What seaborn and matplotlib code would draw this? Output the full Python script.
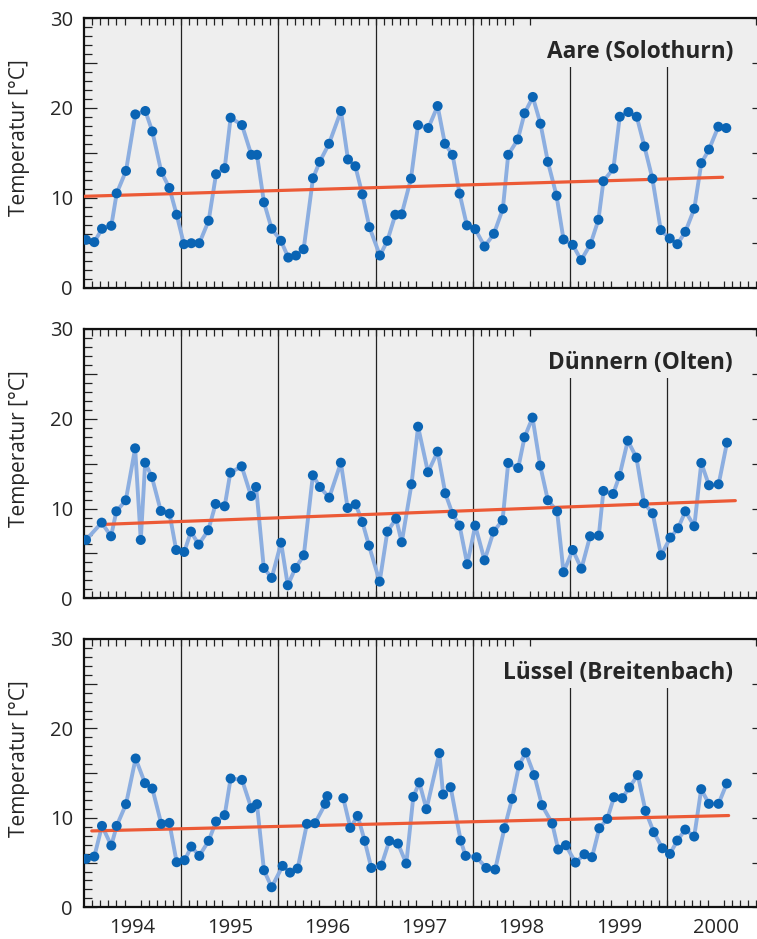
import numpy as np
import pandas as pd
import seaborn as sns
import matplotlib.pyplot as plt
from matplotlib.patches import Rectangle
from matplotlib.ticker import FixedLocator, FuncFormatter

# Monthly water temperatures (decimal year, degC)
aare_year = [
    1994.021, 1994.106, 1994.185, 1994.281, 1994.336, 1994.432, 1994.528, 1994.631, 1994.703, 1994.795, 1994.878, 1994.953,
    1995.028, 1995.104, 1995.186, 1995.282, 1995.358, 1995.447, 1995.508, 1995.625, 1995.721, 1995.779, 1995.851, 1995.930,
    1996.026, 1996.101, 1996.180, 1996.259, 1996.355, 1996.424, 1996.520, 1996.643, 1996.715, 1996.791, 1996.863, 1996.935,
    1997.044, 1997.120, 1997.202, 1997.267, 1997.363, 1997.435, 1997.541, 1997.637, 1997.712, 1997.791, 1997.863, 1997.938,
    1998.024, 1998.120, 1998.216, 1998.308, 1998.363, 1998.462, 1998.531, 1998.616, 1998.695, 1998.771, 1998.860, 1998.932,
    1999.027, 1999.113, 1999.209, 1999.291, 1999.342, 1999.445, 1999.510, 1999.599, 1999.685, 1999.764, 1999.846, 1999.932,
    2000.024, 2000.103, 2000.185, 2000.277, 2000.349, 2000.428, 2000.524, 2000.606]
aare_temp = [
    5.31, 5.05, 6.54, 6.87, 10.48, 12.98, 19.27, 19.65, 17.37, 12.87, 11.08, 8.10,
    4.82, 4.93, 4.93, 7.43, 12.61, 13.28, 18.90, 18.08, 14.77, 14.77, 9.48, 6.54,
    5.20, 3.33, 3.56, 4.26, 12.16, 13.99, 16.00, 19.65, 14.25, 13.50, 10.37, 6.72,
    3.56, 5.20, 8.10, 8.14, 12.12, 18.08, 17.75, 20.20, 16.00, 14.77, 10.45, 6.91,
    6.50, 4.56, 5.98, 8.77, 14.77, 16.48, 19.39, 21.21, 18.23, 13.99, 10.22, 5.34,
    4.75, 3.04, 4.82, 7.54, 11.83, 13.24, 19.01, 19.53, 19.01, 15.70, 12.12, 6.39,
    5.46, 4.82, 6.20, 8.77, 13.84, 15.36, 17.90, 17.75]

duennern_year = [
    1994.021, 1994.182, 1994.278, 1994.333, 1994.430, 1994.526, 1994.584, 1994.629, 1994.698, 1994.790, 1994.880, 1994.948,
    1995.031, 1995.100, 1995.179, 1995.278, 1995.354, 1995.447, 1995.505, 1995.622, 1995.718, 1995.770, 1995.849, 1995.931,
    1996.027, 1996.096, 1996.175, 1996.261, 1996.354, 1996.426, 1996.522, 1996.642, 1996.711, 1996.794, 1996.863, 1996.931,
    1997.041, 1997.120, 1997.210, 1997.268, 1997.368, 1997.436, 1997.538, 1997.637, 1997.716, 1997.791, 1997.863, 1997.942,
    1998.024, 1998.120, 1998.212, 1998.305, 1998.363, 1998.466, 1998.531, 1998.613, 1998.692, 1998.771, 1998.866, 1998.932,
    1999.027, 1999.116, 1999.205, 1999.295, 1999.342, 1999.442, 1999.507, 1999.593, 1999.682, 1999.760, 1999.849, 1999.935,
    2000.031, 2000.110, 2000.185, 2000.277, 2000.349, 2000.428, 2000.527, 2000.613]
duennern_temp = [
    6.50, 8.43, 6.91, 9.69, 10.92, 16.71, 6.50, 15.11, 13.52, 9.73, 9.43, 5.38,
    5.16, 7.43, 5.98, 7.58, 10.51, 10.25, 14.00, 14.70, 11.40, 12.40, 3.38, 2.27,
    6.20, 1.45, 3.38, 4.79, 13.70, 12.40, 11.21, 15.11, 10.06, 10.47, 8.50, 5.87,
    1.86, 7.43, 8.87, 6.24, 12.70, 19.12, 14.04, 16.34, 11.70, 9.39, 8.10, 3.79,
    8.10, 4.23, 7.43, 8.69, 15.08, 14.52, 17.94, 20.13, 14.78, 10.92, 9.69, 2.90,
    5.38, 3.30, 6.91, 6.98, 11.96, 11.62, 13.63, 17.56, 15.67, 10.58, 9.47, 4.79,
    6.76, 7.80, 9.69, 8.02, 15.08, 12.59, 12.70, 17.34]

luessel_year = [
    1994.021, 1994.106, 1994.185, 1994.281, 1994.336, 1994.432, 1994.531, 1994.627, 1994.703, 1994.795, 1994.878, 1994.953,
    1995.035, 1995.104, 1995.186, 1995.282, 1995.358, 1995.447, 1995.508, 1995.625, 1995.721, 1995.779, 1995.851, 1995.930,
    1996.043, 1996.119, 1996.197, 1996.293, 1996.376, 1996.482, 1996.503, 1996.667, 1996.739, 1996.815, 1996.887, 1996.955,
    1997.058, 1997.140, 1997.229, 1997.315, 1997.387, 1997.449, 1997.522, 1997.655, 1997.693, 1997.771, 1997.874, 1997.925,
    1998.038, 1998.137, 1998.229, 1998.324, 1998.403, 1998.474, 1998.543, 1998.631, 1998.710, 1998.816, 1998.877, 1998.956,
    1999.055, 1999.147, 1999.225, 1999.300, 1999.382, 1999.451, 1999.536, 1999.608, 1999.696, 1999.775, 1999.860, 1999.949,
    2000.027, 2000.102, 2000.184, 2000.276, 2000.348, 2000.427, 2000.526, 2000.611]
luessel_temp = [
    5.41, 5.67, 9.10, 6.90, 9.10, 11.53, 16.64, 13.88, 13.28, 9.33, 9.44, 5.04,
    5.26, 6.79, 5.75, 7.43, 9.59, 10.30, 14.40, 14.25, 11.08, 11.53, 4.14, 2.24,
    4.63, 3.88, 4.33, 9.33, 9.40, 11.57, 12.43, 12.20, 8.88, 10.22, 7.43, 4.40,
    4.66, 7.43, 7.13, 4.89, 12.35, 13.96, 10.97, 17.24, 12.61, 13.43, 7.46, 5.75,
    5.60, 4.40, 4.22, 8.84, 12.13, 15.86, 17.31, 14.78, 11.42, 9.37, 6.46, 6.94,
    5.00, 5.93, 5.60, 8.84, 9.89, 12.31, 12.20, 13.40, 14.78, 10.78, 8.40, 6.60,
    5.97, 7.46, 8.69, 7.91, 13.21, 11.57, 11.57, 13.84]
luessel_break = 1996.6  # the line is interrupted here (missing sample)

# linear trend end points (start/end year, start/end value)
aare_trend_year = [1994.0, 2000.568]
aare_trend_temp = [10.15, 12.27]
duennern_trend_year = [1994.216, 2000.699]
duennern_trend_temp = [8.24, 10.88]
luessel_trend_year = [1994.08, 2000.63]
luessel_trend_temp = [8.54, 10.26]

stations = ["Aare (Solothurn)", "Dünnern (Olten)", "Lüssel (Breitenbach)"]
years = [1994, 1995, 1996, 1997, 1998, 1999, 2000]

panels = [
    (aare_year, aare_temp, None, aare_trend_year, aare_trend_temp),
    (duennern_year, duennern_temp, None, duennern_trend_year, duennern_trend_temp),
    (luessel_year, luessel_temp, luessel_break, luessel_trend_year, luessel_trend_temp),
]

sns.set_style("white")
plt.rcParams['font.family'] = ['Open Sans', 'DejaVu Sans']

W, H = 757, 939
fig = plt.figure(figsize=(W / 100, H / 100), dpi=100)

bg = "#eeeeee"
dot_col = "#0a64b4"
line_col = "#8caee0"
trend_col = "#ec5a36"

ax_left = 84 / W
ax_width = (764.6 - 84) / W
tops = [18, 329, 639]
heights = [269.5, 269.3, 268.3]

for i, (yr, tp, brk, tr_x, tr_y) in enumerate(panels):
    bottom = 1 - (tops[i] + heights[i]) / H
    ax = fig.add_axes([ax_left, bottom, ax_width, heights[i] / H])
    ax.set_facecolor(bg)

    df = pd.DataFrame({"year": yr, "temp": tp})
    df["seg"] = 0 if brk is None else (df["year"] > brk).astype(int)

    # year separators
    for y in years[1:]:
        ax.axvline(y, color="#222222", lw=0.9, zorder=1)

    sns.lineplot(data=df, x="year", y="temp", units="seg", estimator=None,
                 color=line_col, lw=2.8, ax=ax, zorder=3)
    sns.lineplot(x=tr_x, y=tr_y, color=trend_col, lw=2.3, ax=ax, zorder=4)
    sns.scatterplot(data=df, x="year", y="temp", color=dot_col, s=52,
                    edgecolor="none", ax=ax, zorder=5)

    # station name on a gray patch that hides the year lines
    ax.add_patch(Rectangle((0.66, 0.818), 0.318, 0.19, transform=ax.transAxes,
                           facecolor=bg, edgecolor="none", zorder=1.5, clip_on=True))
    ax.text(0.9536, 0.874, stations[i], transform=ax.transAxes, ha="right",
            va="center", fontsize=16.3, fontweight="bold", zorder=6)

    ax.set_xlim(1994, 2001)
    ax.set_ylim(0, 30)

    # x: monthly inward ticks top and bottom, year labels centred
    ax.xaxis.set_major_locator(FixedLocator([y + 0.5 for y in years]))
    ax.xaxis.set_minor_locator(FixedLocator([1994 + k / 12 for k in range(1, 84)]))
    if i == 2:
        ax.set_xticklabels([str(y) for y in years])
    else:
        ax.set_xticklabels([])
    ax.tick_params(axis="x", which="major", length=0, labelsize=14.5, pad=8)
    ax.tick_params(axis="x", which="minor", direction="in", length=5.2,
                   width=0.9, top=True, bottom=True, color="#222222")

    # y: labels every 10, ticks every 5, minor every 1 (left only)
    ax.yaxis.set_major_locator(FixedLocator(np.arange(0, 31, 5)))
    ax.yaxis.set_major_formatter(FuncFormatter(lambda v, p: f"{v:.0f}" if v % 10 == 0 else ""))
    ax.yaxis.set_minor_locator(FixedLocator(np.arange(0, 31, 1)))
    ax.tick_params(axis="y", which="major", direction="in", length=9.5, width=0.9,
                   left=True, right=True, labelsize=14.5, pad=8, color="#222222")
    ax.tick_params(axis="y", which="minor", direction="in", length=5.5, width=0.9,
                   left=True, right=False, color="#222222")

    ax.set_xlabel("")
    ax.set_ylabel("Temperatur [°C]", fontsize=15)
    ax.yaxis.set_label_coords(-0.079, 0.555)
    for s in ax.spines.values():
        s.set_color("#111111")
        s.set_linewidth(1.6)

fig.savefig("out.png", dpi=100)
